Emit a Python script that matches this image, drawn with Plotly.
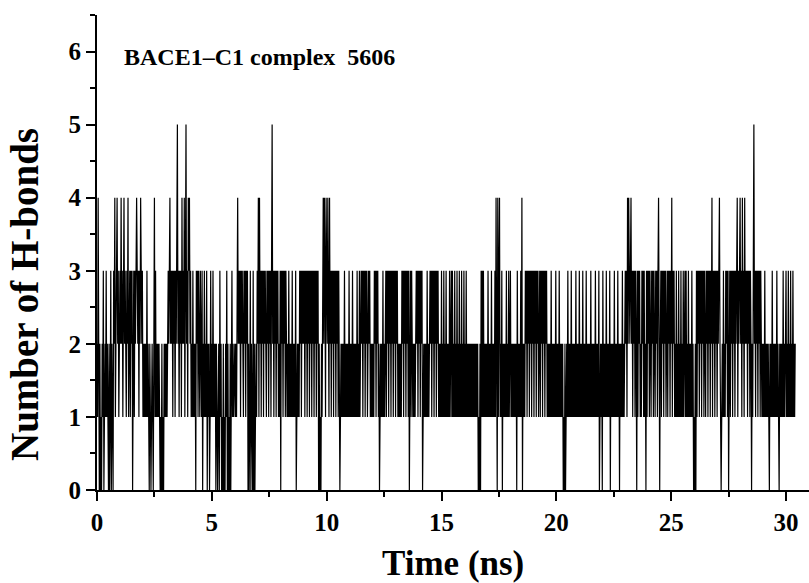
import plotly.graph_objects as go

# Number of H-bonds: one string per nanosecond,
# one digit every 0.025 ns (40 samples per ns)
time_step_ns = 0.025
hbond_segments = [
    "2141020102" "1301213121" "0201302103" "2412342313",  # 0 ns
    "3242313423" "2132412313" "2302313234" "3231324323",  # 1
    "1212121312" "1021012102" "4131212121" "0102010212",  # 2
    "1212323423" "2313231323" "5231323142" "3241352314",  # 3
    "3423121312" "1203231321" "3213021312" "1302120131",  # 4
    "2131212021" "0120312010" "2010213020" "1020131212",  # 5
    "2121342323" "1323213231" "3230201302" "1030201213",  # 6
    "2414231323" "1323213231" "3231352313" "2313231213",  # 7
    "0323132313" "2121312121" "3121213012" "1213231323",  # 8
    "2313231323" "1323132313" "2313230201" "0213424314",  # 9
    "3243142313" "2313231323" "1320121212" "1312121213",  # 10
    "1212131212" "1213121312" "3231323132" "3123231212",  # 11
    "1213231323" "1201212131" "2123132313" "2313231323",  # 12
    "1323121212" "1323132313" "2313023132" "1212123231",  # 13
    "3231323012" "1212131212" "3231323132" "3132312121",  # 14
    "3121312131" "2121312313" "1213121312" "1312131213",  # 15
    "1213121212" "1212121212" "1212010203" "1313121212",  # 16
    "1312121312" "1213142041" "3412130212" "1213121312",  # 17
    "3121212121" "2031212131" "4021213231" "3231323132",  # 18
    "3132313231" "2313231323" "1323121212" "1312121213",  # 19
    "1212131212" "1201020121" "3121213121" "2121312121",  # 20
    "3121213121" "2131212121" "3121212131" "2121301212",  # 21
    "0312121312" "1213021212" "1312121312" "0212131212",  # 22
    "3231424323" "4231323132" "0313231213" "2313120313",  # 23
    "2313213231" "3213231342" "0231323132" "3123132313",  # 24
    "2413231213" "1213121312" "1312313121" "3121213120",  # 25
    "1020313231" "3231323132" "1323132313" "2413231323",  # 26
    "1323421012" "1312132313" "0231323132" "3132341323",  # 27
    "4231423142" "3231323132" "0213523132" "3132313212",  # 28
    "1213121212" "1021213121" "2121312102" "1212131212",  # 29
    "31213121312131212",                                   # 30
]

x_ticks = [0, 5, 10, 15, 20, 25, 30]
y_ticks = [0, 1, 2, 3, 4, 5, 6]
x_title = "Time (ns)"
y_title = "Number of H-bonds"
label_text = "BACE1\u2013C1 complex&nbsp;&nbsp;5606"

times, hbonds = [], []
for k, seg in enumerate(hbond_segments):
    for i, ch in enumerate(seg):
        times.append(round(k + i * time_step_ns, 4))
        hbonds.append(int(ch))

FONT = "Liberation Serif"

W, H = 809, 583
ML, MR, MT, MB = 97, 0, 15, 93
PW, PH = W - ML - MR, H - MT - MB


def px(xs):   # screen x -> paper x
    return (xs - ML) / PW


def py(ys):   # screen y -> paper y
    return (H - MB - ys) / PH


fig = go.Figure()
fig.add_trace(go.Scatter(
    x=times, y=hbonds, mode="lines",
    line=dict(color="black", width=1.2),
    showlegend=False, hoverinfo="skip",
))

axis_common = dict(
    showgrid=False, zeroline=False, showline=True,
    linecolor="black", linewidth=2,
    ticks="outside", ticklen=9, tickwidth=2, tickcolor="black",
    tickfont=dict(family=FONT, size=25, color="black", weight="bold"),
    minor=dict(ticks="outside", ticklen=5, tickwidth=1.5, tickcolor="black"),
)

fig.update_layout(
    width=W, height=H,
    margin=dict(l=ML, r=MR, t=MT, b=MB, autoexpand=False),
    paper_bgcolor="white", plot_bgcolor="white",
    xaxis=dict(range=[0, 31], tickvals=x_ticks,
               minor_dtick=2.5, **axis_common),
    yaxis=dict(range=[0, 6.5], tickvals=y_ticks,
               minor_dtick=0.5, **axis_common),
    annotations=[
        dict(text=label_text, xref="paper", yref="paper",
             x=px(122), y=py(57),
             xanchor="left", yanchor="middle", showarrow=False,
             font=dict(family=FONT, size=24, color="black", weight="bold")),
        dict(text=x_title, xref="paper", yref="paper",
             x=px(453), y=py(563),
             xanchor="center", yanchor="middle", showarrow=False,
             font=dict(family=FONT, size=35, color="black", weight="bold")),
        dict(text=y_title, xref="paper", yref="paper",
             x=px(24), y=py(295),
             xanchor="center", yanchor="middle", showarrow=False, textangle=-90,
             font=dict(family=FONT, size=39, color="black", weight="bold")),
    ],
)

# remove the default 8px page margin so the figure fills the window exactly
fig.write_html(
    "out.html",
    config={"displayModeBar": False},
    post_script="document.body.style.margin='0px';document.body.style.overflow='hidden';",
)
